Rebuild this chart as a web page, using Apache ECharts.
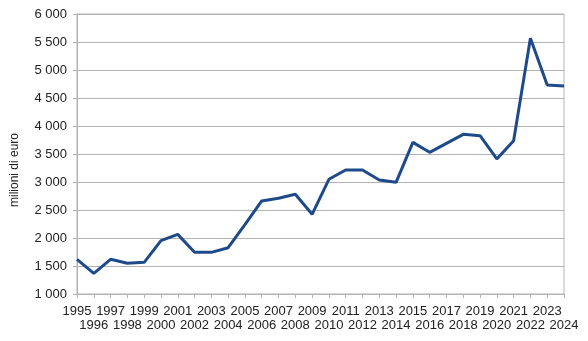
<!DOCTYPE html>
<html>
<head>
<meta charset="utf-8">
<script src="https://cdn.jsdelivr.net/npm/echarts@6/dist/echarts.min.js"></script>
<style>
html,body{margin:0;padding:0;background:#fff;}
#chart{width:588px;height:341px;}
</style>
</head>
<body>
<div id="chart"></div>
<script>
const years = ['1995','1996','1997','1998','1999','2000','2001','2002','2003','2004','2005','2006','2007','2008','2009','2010','2011','2012','2013','2014','2015','2016','2017','2018','2019','2020','2021','2022','2023','2024'];
const values = [1620,1369,1620,1548,1566,1952,2065,1744,1744,1827,2240,2661,2709,2780,2423,3048,3214,3214,3036,2994,3708,3530,3690,3851,3827,3411,3738,5565,4732,4714];
const yAxisTitle = 'milioni di euro';

const chart = echarts.init(document.getElementById('chart'), null, {renderer:'canvas'});
const font = '"Liberation Sans", Arial, sans-serif';
chart.setOption({
  animation:false,
  grid:{left:77,right:24,top:14,bottom:47,show:true,borderColor:'#b3b3b3',borderWidth:1,backgroundColor:'transparent'},
  xAxis:{
    type:'category',data:years,boundaryGap:false,
    axisLine:{lineStyle:{color:'#b3b3b3',width:1}},
    axisTick:{show:true,interval:0,length:4,lineStyle:{color:'#b3b3b3'}},
    axisLabel:{interval:0,margin:10,fontFamily:font,fontSize:13,color:'#222',lineHeight:14,
      formatter:function(v,i){return i%2? '\n'+v : v;}},
    splitLine:{show:false}
  },
  yAxis:{
    type:'value',min:1000,max:6000,interval:500,
    axisLine:{show:true,lineStyle:{color:'#b3b3b3',width:1}},
    axisTick:{show:true,length:4,lineStyle:{color:'#b3b3b3'}},
    axisLabel:{margin:10,fontFamily:font,fontSize:13,color:'#222',
      formatter:function(v){return String(v).replace(/\B(?=(\d{3})+(?!\d))/g,' ');}},
    splitLine:{show:true,lineStyle:{color:'#b3b3b3',width:1}}
  },
  graphic:[{type:'text',x:15,y:170,rotation:Math.PI/2,
    style:{text:yAxisTitle,fontFamily:font,fontSize:12,fill:'#222',align:'center',verticalAlign:'middle'}}],
  series:[{type:'line',data:values,symbol:'none',lineStyle:{color:'#1f4a8a',width:3},itemStyle:{color:'#1f4a8a'}}]
});
</script>
</body>
</html>
